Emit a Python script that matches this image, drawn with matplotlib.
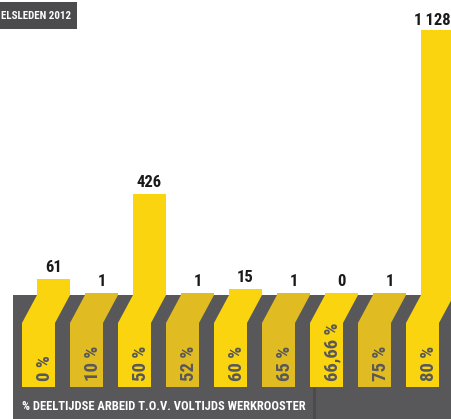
import numpy as np
import matplotlib.pyplot as plt
from matplotlib.patches import Polygon, Rectangle

# data
categories = ["0 %", "10 %", "50 %", "52 %", "60 %", "65 %", "66,66 %", "75 %", "80 %"]
values = [61, 1, 426, 1, 15, 1, 0, 1, 1128]
value_labels = ["61", "1", "426", "1", "15", "1", "0", "1", "1\u2009128"]
title = "% DEELTIJDSE ARBEID T.O.V. VOLTIJDS WERKROOSTER"
header = "ELSLEDEN 2012"

yellow = "#F9D40F"
gold = "#E1BB22"
gray = "#58585A"
dark = "#4B4B4D"
colors = [yellow if i % 2 == 0 else gold for i in range(len(values))]
font = ["Roboto Condensed", "DejaVu Sans"]

W, H = 451, 419
fig = plt.figure(figsize=(W / 100, H / 100), dpi=100)
fig.patch.set_facecolor("white")

base = 124          # baseline height in px from the bottom
step = 48.0         # px between bars
x0 = 53.5           # px centre of first bar
bw = 33 / step
slant = 15 / step
x = np.arange(len(values))
xlim = (-x0 / step, (W - x0) / step)

# upper part: the bars themselves
ax = fig.add_axes([0, base / H, 1, 1 - base / H])
ax.set_xlim(*xlim)
ax.set_ylim(-9, 1256)
ax.axis("off")
vals = np.array(values, float)
ax.bar(x, vals + 9, bottom=-9, width=bw, color=colors, linewidth=0)
for xi, v, lab in zip(x, vals, value_labels):
    big = v > 1000
    ax.annotate(lab, (xi, v), xytext=(-5 if big else 0, 5 if big else 7),
                textcoords="offset pixels", ha="center", va="baseline",
                fontsize=12, fontweight="bold", fontstretch="condensed",
                color="#1a1a1a", family=font)

# lower part: gray band with slanted label strips
lo = fig.add_axes([0, 0, 1, base / H])
lo.set_xlim(*xlim)
lo.set_ylim(0, base)
lo.axis("off")
lo.add_patch(Rectangle(((13 - x0) / step, 0), xlim[1] + 1, base, color=gray, lw=0))
lo.add_patch(Rectangle(((313 - x0) / step, 0), 3 / step, 31, color=dark, lw=0))
for xi, c, cat in zip(x, colors, categories):
    l, r = xi - bw / 2, xi + bw / 2
    lo.add_patch(Polygon([(l, base), (r, base), (r - slant, 96), (l - slant, 96)],
                         closed=True, color=c, lw=0))
    lo.add_patch(Rectangle((l - slant, 32), bw, 64, color=c, lw=0))
    lo.text(xi - slant + 11 / step, 38, cat, rotation=90, rotation_mode="anchor",
            ha="left", va="baseline", fontsize=13.5, fontweight="bold",
            fontstretch="condensed", color=gray, family=font)
lo.text((22 - x0) / step, 13, title, ha="left", va="center", fontsize=9,
        fontweight="bold", fontstretch="condensed", color="white", family=font)

# header box top left
fig.add_artist(Rectangle((0, (H - 29) / H), 77 / W, 27 / H, color=dark, lw=0,
                         transform=fig.transFigure))
fig.text(1 / W, (H - 16) / H, header, ha="left", va="center", fontsize=7.9,
         fontweight="bold", fontstretch="condensed", color="white", family=font)

plt.savefig("out.png", dpi=100)
